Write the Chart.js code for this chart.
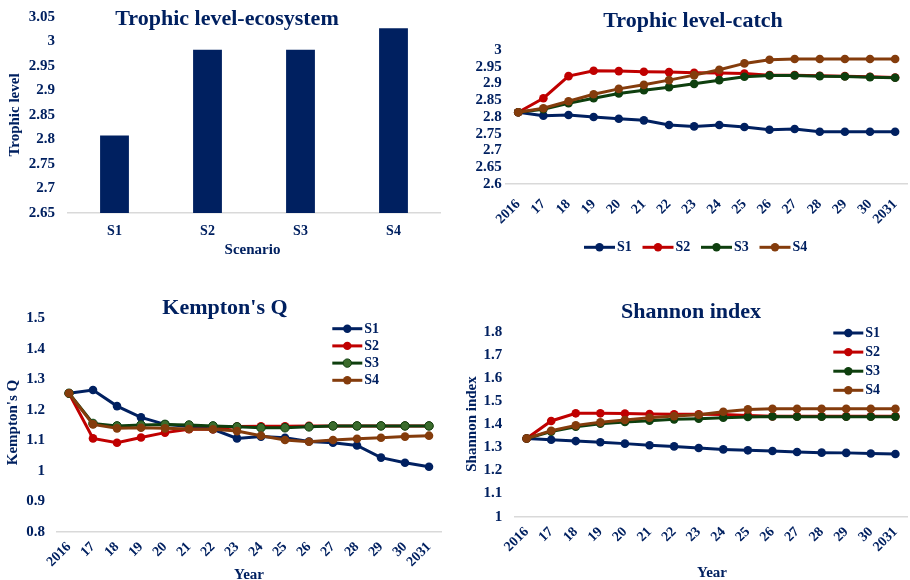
<!DOCTYPE html>
<html>
<head>
<meta charset="utf-8">
<script src="https://cdn.jsdelivr.net/npm/chart.js@4.4.1/dist/chart.umd.min.js"></script>
<style>
  html, body { margin: 0; padding: 0; background: #ffffff; }
  #wrap { position: relative; width: 910px; height: 580px; overflow: hidden; background: #ffffff; }
  #wrap canvas { position: absolute; left: 0; top: 0; }
</style>
</head>
<body>
<div id="wrap">
  <canvas id="cEco" width="912" height="580"></canvas>
  <canvas id="cCatch" width="912" height="580"></canvas>
  <canvas id="cKempton" width="912" height="580"></canvas>
  <canvas id="cShannon" width="912" height="580"></canvas>
</div>
<script>
// ---- data ----
const scenarios = ['S1', 'S2', 'S3', 'S4'];
const ecosystemTL = [2.808, 2.983, 2.983, 3.027];

const years = ['2016', '17', '18', '19', '20', '21', '22', '23', '24', '25', '26', '27', '28', '29', '30', '2031'];

const catchS1 = [2.814, 2.804, 2.806, 2.800, 2.795, 2.790, 2.776, 2.772, 2.776, 2.770, 2.762, 2.764, 2.756, 2.756, 2.756, 2.756];
const catchS2 = [2.814, 2.856, 2.922, 2.938, 2.937, 2.935, 2.934, 2.932, 2.931, 2.930, 2.925, 2.925, 2.923, 2.922, 2.920, 2.918];
const catchS3 = [2.814, 2.823, 2.841, 2.856, 2.870, 2.880, 2.889, 2.899, 2.910, 2.920, 2.924, 2.924, 2.922, 2.921, 2.919, 2.917];
const catchS4 = [2.814, 2.826, 2.847, 2.868, 2.884, 2.896, 2.910, 2.925, 2.941, 2.960, 2.971, 2.973, 2.973, 2.973, 2.973, 2.973];

const kemptonS1 = [1.254, 1.265, 1.212, 1.175, 1.152, 1.145, 1.136, 1.106, 1.112, 1.108, 1.096, 1.092, 1.083, 1.043, 1.026, 1.013];
const kemptonS2 = [1.254, 1.106, 1.092, 1.109, 1.125, 1.136, 1.136, 1.145, 1.146, 1.146, 1.147, 1.147, 1.147, 1.147, 1.147, 1.147];
const kemptonS3 = [1.254, 1.155, 1.147, 1.150, 1.152, 1.150, 1.147, 1.144, 1.141, 1.141, 1.144, 1.147, 1.147, 1.147, 1.147, 1.147];
const kemptonS4 = [1.254, 1.152, 1.139, 1.141, 1.139, 1.137, 1.136, 1.130, 1.115, 1.101, 1.095, 1.101, 1.105, 1.108, 1.112, 1.115];

const shannonS1 = [1.338, 1.333, 1.327, 1.322, 1.316, 1.309, 1.304, 1.297, 1.291, 1.287, 1.284, 1.280, 1.277, 1.276, 1.273, 1.271];
const shannonS2 = [1.338, 1.414, 1.447, 1.447, 1.446, 1.444, 1.443, 1.443, 1.442, 1.438, 1.434, 1.434, 1.434, 1.434, 1.434, 1.434];
const shannonS3 = [1.338, 1.368, 1.389, 1.402, 1.410, 1.415, 1.421, 1.424, 1.428, 1.431, 1.433, 1.432, 1.432, 1.432, 1.432, 1.432];
const shannonS4 = [1.338, 1.372, 1.395, 1.408, 1.418, 1.428, 1.435, 1.441, 1.454, 1.464, 1.467, 1.467, 1.467, 1.467, 1.467, 1.467];

// ---- styling ----
const NAVY = '#002060';
const RED = '#C00000';
const GREEN = '#0E3F0E';
const BROWN = '#843C0C';
const AXIS_GREY = '#D9D9D9';
const SERIF = '"Liberation Serif", "Times New Roman", serif';
const CW = 912, CH = 580;

Chart.defaults.font.family = SERIF;
Chart.defaults.font.weight = 'bold';
Chart.defaults.color = NAVY;
Chart.defaults.animation = false;

// Titles, axis captions and legends drawn at fixed spots around the plot
const decor = {
  id: 'decor',
  afterDraw(chart, args, opts) {
    const ctx = chart.ctx;
    ctx.save();
    ctx.fillStyle = NAVY;
    ctx.textAlign = 'center';
    ctx.textBaseline = 'middle';
    (opts.texts || []).forEach(t => {
      ctx.save();
      ctx.font = t.font;
      ctx.translate(t.x, t.y);
      if (t.rot) ctx.rotate(t.rot);
      ctx.fillText(t.text, 0, 0);
      ctx.restore();
    });
    const L = opts.legend;
    if (L) {
      chart.data.datasets.forEach((ds, i) => {
        const x = L.x + (L.dx || 0) * i;
        const y = L.y + (L.dy || 0) * i;
        ctx.strokeStyle = ds.borderColor;
        ctx.lineWidth = 3;
        ctx.beginPath();
        ctx.moveTo(x, y);
        ctx.lineTo(x + L.len, y);
        ctx.stroke();
        ctx.fillStyle = ds.pointBackgroundColor;
        ctx.strokeStyle = ds.pointBorderColor;
        ctx.lineWidth = ds.pointBorderWidth;
        ctx.beginPath();
        ctx.arc(x + L.len / 2, y, 4.2, 0, Math.PI * 2);
        ctx.fill();
        if (ds.pointBorderWidth) ctx.stroke();
        ctx.fillStyle = NAVY;
        ctx.textAlign = 'left';
        ctx.font = L.font;
        ctx.fillText(ds.label, x + L.len + 2, y + 0.5);
      });
    }
    ctx.restore();
  }
};

function fmt(v) { return String(Math.round(v * 100) / 100); }

// Fix the plot rectangle of a chart: left, right, top, bottom in page pixels
function frame(box, yW, xH) {
  return {
    padding: { left: box.l - yW, right: CW - box.r, top: box.t, bottom: CH - box.b - xH }
  };
}
function fixY(w) { return s => { s.width = w; s.paddingTop = 0; s.paddingBottom = 0; }; }
function fixX(h) { return s => { s.height = h; s.paddingLeft = 0; s.paddingRight = 0; }; }

const yTickFont = { size: 15, weight: 'bold', family: SERIF };
const xTickFont = { size: 14, weight: 'bold', family: SERIF };

function lineSet(label, data, color, fill, border) {
  return {
    label, data,
    borderColor: color,
    backgroundColor: color,
    borderWidth: 3,
    pointRadius: 4.3,
    pointBackgroundColor: fill || color,
    pointBorderColor: border || color,
    pointBorderWidth: border ? 1 : 0,
    tension: 0
  };
}

function lineOptions(box, yMin, yMax, step, tickPad, xPad, decorOpts) {
  return {
    responsive: false,
    animation: false,
    layout: frame(box, 56, 60),
    plugins: { legend: { display: false }, tooltip: { enabled: false }, title: { display: false }, decor: decorOpts },
    scales: {
      x: {
        type: 'category',
        offset: true,
        grid: { display: false, drawTicks: false },
        border: { display: true, color: AXIS_GREY, width: 1.5 },
        ticks: { autoSkip: false, minRotation: 45, maxRotation: 45, padding: xPad, font: xTickFont, color: NAVY },
        afterFit: fixX(60)
      },
      y: {
        min: yMin, max: yMax,
        grid: { display: false, drawTicks: false },
        border: { display: false },
        ticks: { autoSkip: false, stepSize: step, padding: tickPad, font: yTickFont, color: NAVY, callback: fmt },
        afterFit: fixY(56)
      }
    }
  };
}

// ---- Trophic level-ecosystem (bars) ----
const ecoBox = { l: 68, r: 440, t: 17, b: 213 };
new Chart(document.getElementById('cEco'), {
  type: 'bar',
  data: {
    labels: scenarios,
    datasets: [{ label: 'Trophic level', data: ecosystemTL, backgroundColor: NAVY, borderWidth: 0, barPercentage: 0.31, categoryPercentage: 1 }]
  },
  options: {
    responsive: false,
    animation: false,
    layout: frame(ecoBox, 56, 40),
    plugins: {
      legend: { display: false }, tooltip: { enabled: false },
      decor: {
        texts: [
          { text: 'Trophic level-ecosystem', x: 227, y: 19.5, font: 'bold 22px ' + SERIF },
          { text: 'Scenario', x: 252.5, y: 250, font: 'bold 15px ' + SERIF },
          { text: 'Trophic level', x: 15.5, y: 115, rot: -Math.PI / 2, font: 'bold 15px ' + SERIF }
        ]
      }
    },
    scales: {
      x: {
        grid: { display: false, drawTicks: false },
        border: { display: true, color: AXIS_GREY, width: 1.5 },
        ticks: { padding: 10, font: xTickFont, color: NAVY },
        afterFit: fixX(40)
      },
      y: {
        min: 2.65, max: 3.05,
        grid: { display: false, drawTicks: false },
        border: { display: false },
        ticks: { autoSkip: false, stepSize: 0.05, padding: 13, font: yTickFont, color: NAVY, callback: fmt },
        afterFit: fixY(56)
      }
    }
  },
  plugins: [decor]
});

// ---- line charts: one dataset per scenario ----
function scenarioSets(a, b, c, d, greenFill, greenBorder) {
  const sets = [
    lineSet('S1', a, NAVY),
    lineSet('S2', b, RED),
    lineSet('S3', c, GREEN, greenFill, greenBorder),
    lineSet('S4', d, BROWN)
  ];
  // later scenarios sit on top
  sets.forEach((s, i) => { s.order = sets.length - i; });
  return sets;
}

// ---- Trophic level-catch ----
new Chart(document.getElementById('cCatch'), {
  type: 'line',
  data: { labels: years, datasets: scenarioSets(catchS1, catchS2, catchS3, catchS4) },
  options: lineOptions({ l: 505.7, r: 911, t: 50, b: 184 }, 2.6, 3, 0.05, 4, 12, {
    texts: [{ text: 'Trophic level-catch', x: 693, y: 21, font: 'bold 22px ' + SERIF }],
    legend: { x: 584, y: 247.3, len: 31, dx: 58.5, font: 'bold 14px ' + SERIF }
  }),
  plugins: [decor]
});

// ---- Kempton's Q ----
new Chart(document.getElementById('cKempton'), {
  type: 'line',
  data: { labels: years, datasets: scenarioSets(kemptonS1, kemptonS2, kemptonS3, kemptonS4, '#3B6B2C', GREEN) },
  options: lineOptions({ l: 57, r: 441, t: 318.3, b: 531.7 }, 0.8, 1.5, 0.1, 12, 7, {
    texts: [
      { text: "Kempton's Q", x: 225, y: 308.5, font: 'bold 22px ' + SERIF },
      { text: 'Year', x: 249, y: 575, font: 'bold 15px ' + SERIF },
      { text: "Kempton's Q", x: 13.5, y: 422.5, rot: -Math.PI / 2, font: 'bold 15px ' + SERIF }
    ],
    legend: { x: 332.3, y: 328.7, len: 30, dy: 17.2, font: 'bold 14px ' + SERIF }
  }),
  plugins: [decor]
});

// ---- Shannon index ----
new Chart(document.getElementById('cShannon'), {
  type: 'line',
  data: { labels: years, datasets: scenarioSets(shannonS1, shannonS2, shannonS3, shannonS4) },
  options: lineOptions({ l: 514.3, r: 910.1, t: 331.7, b: 516.7 }, 1, 1.8, 0.1, 12, 7, {
    texts: [
      { text: 'Shannon index', x: 691, y: 312.5, font: 'bold 22px ' + SERIF },
      { text: 'Year', x: 712, y: 572.7, font: 'bold 15px ' + SERIF },
      { text: 'Shannon index', x: 471.7, y: 424, rot: -Math.PI / 2, font: 'bold 15px ' + SERIF }
    ],
    legend: { x: 833.3, y: 333, len: 30, dy: 19.1, font: 'bold 14px ' + SERIF }
  }),
  plugins: [decor]
});
</script>
</body>
</html>
